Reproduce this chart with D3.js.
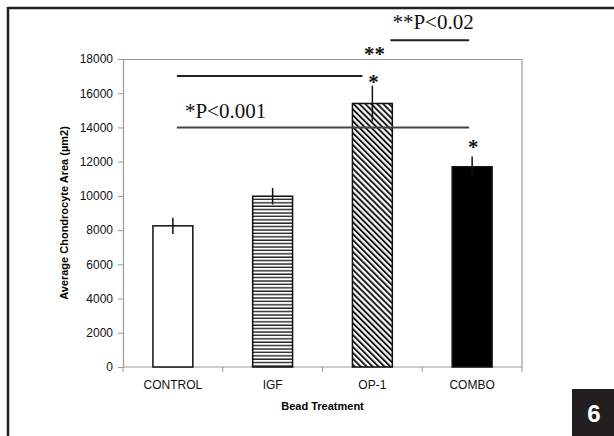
<!DOCTYPE html>
<html>
<head>
<meta charset="utf-8">
<script src="https://cdn.jsdelivr.net/npm/d3@7"></script>
<style>
  body { margin: 0; background: #fff; }
  svg { display: block; }
</style>
</head>
<body>
<div id="chart"></div>
<script>
// bar data
const categories = ["CONTROL", "IGF", "OP-1", "COMBO"];
const means = [8250, 9980, 15400, 11700];
const errors = [470, 480, 1040, 600];
const yTicks = [0, 2000, 4000, 6000, 8000, 10000, 12000, 14000, 16000, 18000];
const fills = ["white", "url(#hstripe)", "url(#dstripe)", "black"];

// significance marks
const bracketFrom = ["CONTROL", "CONTROL", "OP-1"];
const bracketTo = ["OP-1", "COMBO", "COMBO"];
const bracketValue = [17000, 14000, 19100];
const bracketLabel = ["", "*P<0.001", "**P<0.02"];
const starOver = ["OP-1", "COMBO"];

const W = 614, H = 436;
const margin = {top: 59, right: 92, bottom: 69, left: 123};
const width = W - margin.left - margin.right;
const height = H - margin.top - margin.bottom;

const svg = d3.select("#chart").append("svg")
    .attr("width", W)
    .attr("height", H);

// hatch patterns
const defs = svg.append("defs");
let hp = defs.append("pattern")
    .attr("id", "hstripe")
    .attr("patternUnits", "userSpaceOnUse")
    .attr("width", 8).attr("height", 3.4);
hp.append("rect").attr("width", 8).attr("height", 3.4).attr("fill", "white");
hp.append("line").attr("x1", 0).attr("x2", 8).attr("y1", 1).attr("y2", 1)
    .attr("stroke", "#222").attr("stroke-width", 1.4);

let dp = defs.append("pattern")
    .attr("id", "dstripe")
    .attr("patternUnits", "userSpaceOnUse")
    .attr("width", 4.2).attr("height", 8)
    .attr("patternTransform", "rotate(-45)");
dp.append("rect").attr("width", 4.2).attr("height", 8).attr("fill", "white");
dp.append("line").attr("x1", 1).attr("x2", 1).attr("y1", 0).attr("y2", 8)
    .attr("stroke", "#111").attr("stroke-width", 1.9);

// page frame
svg.append("line").attr("x1", 8).attr("x2", W).attr("y1", 8).attr("y2", 8)
    .attr("stroke", "#222").attr("stroke-width", 2.5);
svg.append("line").attr("x1", 8).attr("x2", 8).attr("y1", 7).attr("y2", H)
    .attr("stroke", "#222").attr("stroke-width", 2.5);

// figure number box
svg.append("rect").attr("x", 572).attr("y", 389).attr("width", 42).attr("height", 47)
    .attr("fill", "#231f20");
svg.append("text").attr("x", 594).attr("y", 422)
    .attr("text-anchor", "middle")
    .style("font-family", "Arial, 'Liberation Sans', sans-serif")
    .style("font-weight", "bold").style("font-size", "24px")
    .attr("fill", "white").text("6");

const g = svg.append("g").attr("transform", `translate(${margin.left},${margin.top})`);

const x = d3.scaleBand().domain(categories).range([0, width]).paddingInner(0.6).paddingOuter(0.3);
const xb = d3.scaleBand().domain(categories).range([0, width]);
const y = d3.scaleLinear().domain([0, 18000]).range([height, 0]);

// plot frame (top + right)
g.append("line").attr("x1", 0).attr("x2", width).attr("y1", 0.5).attr("y2", 0.5)
    .attr("stroke", "#999").attr("stroke-width", 1.2);
g.append("line").attr("x1", width).attr("x2", width).attr("y1", 0).attr("y2", height)
    .attr("stroke", "#999").attr("stroke-width", 1.2);

// y axis
const yAxis = g.append("g")
    .call(d3.axisLeft(y).tickValues(yTicks).tickSize(5).tickPadding(5).tickFormat(d3.format("d")));
yAxis.select(".domain").attr("stroke", "#999").attr("stroke-width", 1.2);
yAxis.selectAll(".tick line").attr("stroke", "#999");
yAxis.selectAll("text")
    .style("font-family", "Arial, 'Liberation Sans', sans-serif")
    .style("font-size", "12px").attr("fill", "#111");

// x axis (ticks between categories)
const xAxis = g.append("g").attr("transform", `translate(0,${height})`);
xAxis.append("line").attr("x1", 0).attr("x2", width).attr("y1", 0).attr("y2", 0)
    .attr("stroke", "#999").attr("stroke-width", 1.2);
xAxis.selectAll(".xt")
    .data(categories.concat([null]))
    .enter().append("line")
    .attr("class", "xt")
    .attr("x1", (d, i) => i < categories.length ? xb(d) : width)
    .attr("x2", (d, i) => i < categories.length ? xb(d) : width)
    .attr("y1", 0).attr("y2", 5)
    .attr("stroke", "#999");
xAxis.selectAll(".xl")
    .data(categories)
    .enter().append("text")
    .attr("class", "xl")
    .attr("x", d => xb(d) + xb.bandwidth() / 2)
    .attr("y", 22)
    .attr("text-anchor", "middle")
    .style("font-family", "Arial, 'Liberation Sans', sans-serif")
    .style("font-size", "12px").attr("fill", "#111")
    .text(d => d);

// axis titles
g.append("text")
    .attr("x", width / 2).attr("y", height + 43)
    .attr("text-anchor", "middle")
    .style("font-family", "Arial, 'Liberation Sans', sans-serif")
    .style("font-size", "11px").style("font-weight", "bold")
    .text("Bead Treatment");
g.append("text")
    .attr("transform", `translate(-55,${height / 2}) rotate(-90)`)
    .attr("text-anchor", "middle")
    .style("font-family", "Arial, 'Liberation Sans', sans-serif")
    .style("font-size", "11px").style("font-weight", "bold")
    .text("Average Chondrocyte Area (µm2)");

// bars
g.selectAll(".bar")
    .data(categories)
    .enter().append("rect")
    .attr("class", "bar")
    .attr("x", d => x(d))
    .attr("y", (d, i) => y(means[i]))
    .attr("width", x.bandwidth())
    .attr("height", (d, i) => height - y(means[i]))
    .attr("fill", (d, i) => fills[i])
    .attr("stroke", "#111")
    .attr("stroke-width", 1.5);

// error bars
g.selectAll(".err")
    .data(categories)
    .enter().append("line")
    .attr("class", "err")
    .attr("x1", d => x(d) + x.bandwidth() / 2)
    .attr("x2", d => x(d) + x.bandwidth() / 2)
    .attr("y1", (d, i) => y(means[i] + errors[i]))
    .attr("y2", (d, i) => y(means[i] - errors[i]))
    .attr("stroke", "#111")
    .attr("stroke-width", 1.5);

// significance lines
const cx = d => x(d) + x.bandwidth() / 2;
const startOff = [4, 4, 18];
const endOff = [-10, -3, -3];
bracketValue.forEach((v, i) => {
    let x1 = cx(bracketFrom[i]) + startOff[i];
    let x2 = cx(bracketTo[i]) + endOff[i];
    g.append("line")
        .attr("x1", x1).attr("x2", x2)
        .attr("y1", y(v)).attr("y2", y(v))
        .attr("stroke", i == 1 ? "#444" : "#222")
        .attr("stroke-width", 2);
    if (bracketLabel[i] != "") {
        g.append("text")
            .attr("x", i == 1 ? x1 + 8 : x1 + 2)
            .attr("y", y(v) - (i == 1 ? 9 : 11))
            .style("font-family", "'Liberation Serif', 'Times New Roman', serif")
            .style("font-size", "21px")
            .attr("fill", "#111")
            .text(bracketLabel[i]);
    }
});

// asterisks above bars (drawn bolder, as in the figure)
starOver.forEach(c => {
    let i = categories.indexOf(c);
    g.append("text")
        .attr("x", cx(c) + 1)
        .attr("y", y(means[i] + errors[i]) + (c == "OP-1" ? 3 : -3))
        .attr("text-anchor", "middle")
        .style("font-family", "'Liberation Serif', 'Times New Roman', serif")
        .style("font-size", "21px").style("font-weight", "bold")
        .attr("fill", "#111")
        .text("*");
});
g.append("text")
    .attr("x", cx("OP-1") + 2)
    .attr("y", y(bracketValue[2]) + 21)
    .attr("text-anchor", "middle")
    .style("font-family", "'Liberation Serif', 'Times New Roman', serif")
    .style("font-size", "21px").style("font-weight", "bold")
    .attr("fill", "#111")
    .text("**");
</script>
</body>
</html>
